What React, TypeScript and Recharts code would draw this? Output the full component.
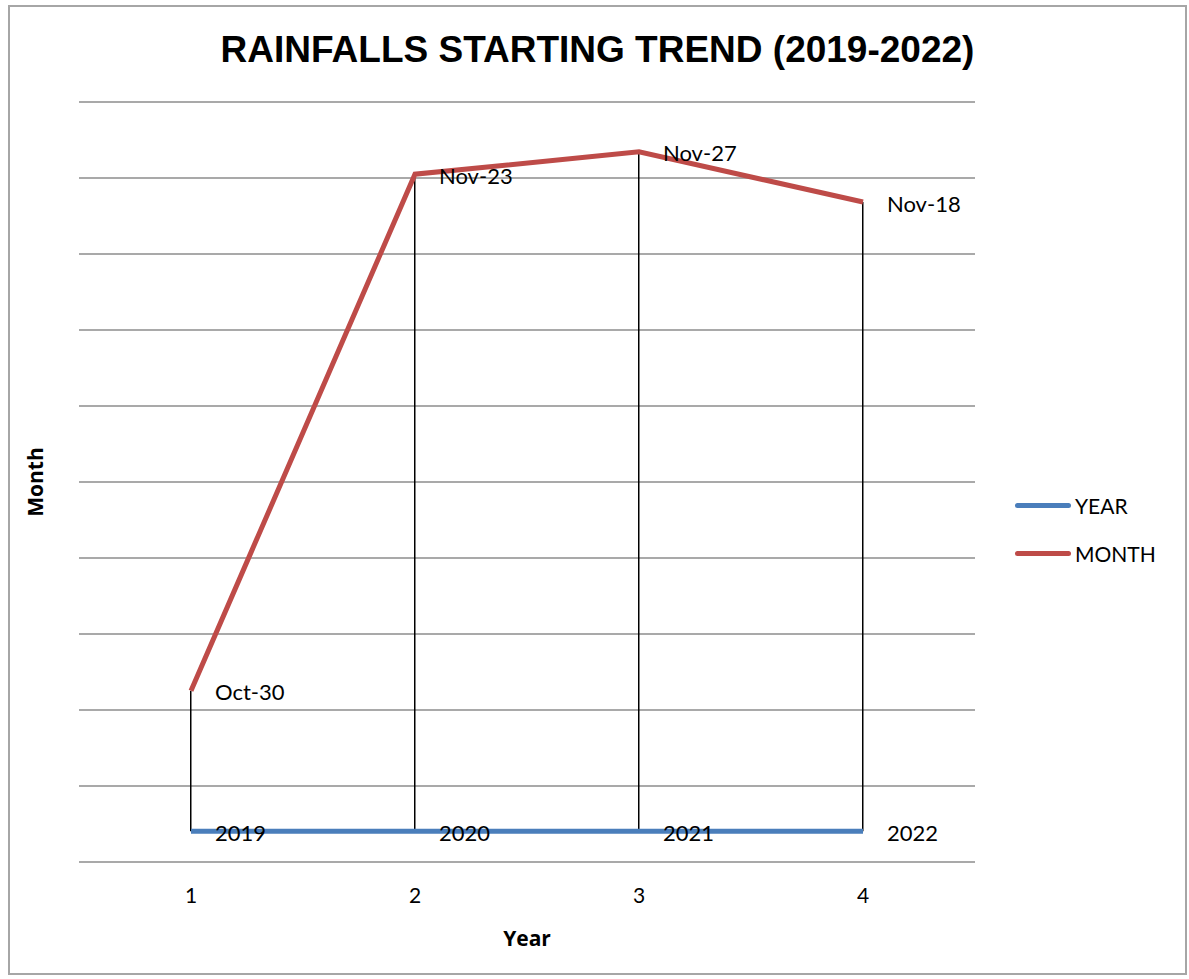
import {
  ComposedChart,
  Line,
  Bar,
  XAxis,
  YAxis,
  CartesianGrid,
  LabelList,
} from "recharts";

// category index on the x axis
const categories = ["1", "2", "3", "4"];
// YEAR series (plotted as raw numbers)
const yearValues = [2019, 2020, 2021, 2022];
// MONTH series: date serials shown as mmm-yy
const monthValues = [11261, 45253, 46718, 43422];
const monthLabels = ["Oct-30", "Nov-23", "Nov-27", "Nov-18"];
const yTicks = [0, 5000, 10000, 15000, 20000, 25000, 30000, 35000, 40000, 45000, 50000];

const data = categories.map((c, i) => ({
  cat: c,
  year: yearValues[i],
  month: monthValues[i],
  monthLabel: monthLabels[i],
  yearLabel: String(yearValues[i]),
  drop: [yearValues[i], monthValues[i]],
}));

const labelFont = "Lato, 'Open Sans', sans-serif";

const seriesColors: Record<string, string> = {
  YEAR: "#4a7ebb",
  MONTH: "#be4b48",
};

const RightLabel = (props: any) => {
  const { x, y, value } = props;
  return (
    <text
      x={x + 24}
      y={y + 4}
      fontSize={22}
      fontFamily={labelFont}
      fill="#000"
      dominantBaseline="middle"
    >
      {value}
    </text>
  );
};

const LegendBox = () => (
  <div style={{ fontFamily: labelFont, fontSize: 21 }}>
    {Object.keys(seriesColors).map((name) => (
      <div key={name} style={{ display: "flex", alignItems: "center", height: 48 }}>
        <div
          style={{
            width: 56,
            height: 5,
            borderRadius: 3,
            background: seriesColors[name],
            marginRight: 4,
          }}
        />
        <span>{name}</span>
      </div>
    ))}
  </div>
);

export default function App() {
  return (
    <div
      style={{
        position: "absolute",
        left: 8,
        top: 5,
        width: 1175,
        height: 966,
        border: "2px solid #a6a6a6",
        background: "#fff",
      }}
    >
      <div
        style={{
          position: "absolute",
          left: 0,
          width: 1175,
          top: 22,
          textAlign: "center",
          fontFamily: "'Liberation Sans', Arial, sans-serif",
          fontWeight: "bold",
          fontSize: 37,
        }}
      >
        RAINFALLS STARTING TREND (2019-2022)
      </div>
      <div
        style={{
          position: "absolute",
          left: 25,
          top: 475,
          transform: "translate(-50%, -50%) rotate(-90deg)",
          fontFamily: "'Open Sans', sans-serif",
          fontWeight: "bold",
          fontSize: 21,
        }}
      >
        Month
      </div>
      <div
        style={{
          position: "absolute",
          left: 517,
          top: 931,
          transform: "translate(-50%, -50%)",
          fontFamily: "'Open Sans', sans-serif",
          fontWeight: "bold",
          fontSize: 21,
        }}
      >
        Year
      </div>
      <div style={{ position: "absolute", left: 1005, top: 474 }}>
        <LegendBox />
      </div>
      <ComposedChart
        width={1175}
        height={966}
        data={data}
        margin={{ top: 95, right: 210, left: 69, bottom: 51 }}
      >
        <CartesianGrid vertical={false} stroke="#8c8c8c" strokeWidth={1.5} />
        <XAxis
          dataKey="cat"
          axisLine={false}
          tickLine={false}
          height={60}
          tickMargin={20}
          tick={{ fontSize: 21, fontFamily: labelFont, fill: "#000" }}
        />
        <YAxis hide domain={[0, 50000]} ticks={yTicks} />
        <Bar dataKey="drop" fill="#000" barSize={1.5} isAnimationActive={false} />
        <Line
          dataKey="year"
          stroke={seriesColors.YEAR}
          strokeWidth={5}
          dot={false}
          isAnimationActive={false}
        >
          <LabelList dataKey="yearLabel" content={RightLabel} />
        </Line>
        <Line
          dataKey="month"
          stroke={seriesColors.MONTH}
          strokeWidth={5}
          dot={false}
          isAnimationActive={false}
        >
          <LabelList dataKey="monthLabel" content={RightLabel} />
        </Line>
      </ComposedChart>
    </div>
  );
}
